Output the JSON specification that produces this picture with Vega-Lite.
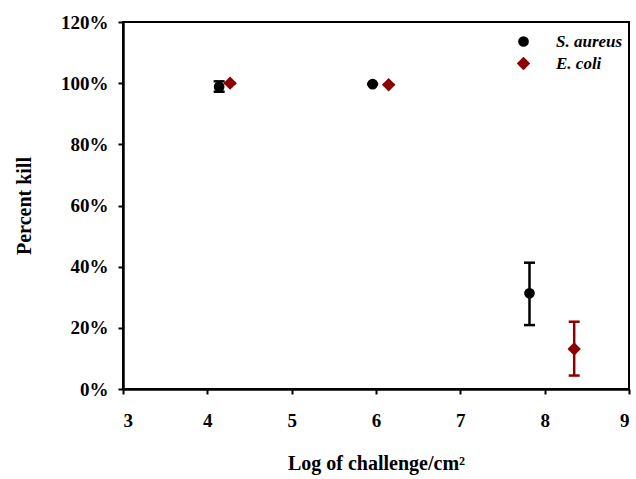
{
  "$schema": "https://vega.github.io/schema/vega-lite/v6.json",
  "autosize": "none",
  "width": 506,
  "height": 367,
  "padding": {"left": 123, "top": 22, "right": 7, "bottom": 90},
  "background": "white",
  "config": {
    "view": {"stroke": "black", "strokeWidth": 2},
    "font": "Liberation Serif",
    "axis": {
      "domainColor": "black", "domainWidth": 2.5, "tickColor": "black", "tickWidth": 2,
      "tickSize": 5, "grid": false, "labelFont": "Liberation Serif", "labelFontWeight": "bold",
      "labelFontSize": 19, "labelColor": "black", "titleFont": "Liberation Serif",
      "titleFontWeight": "bold", "titleFontSize": 20, "titleColor": "black"
    }
  },
  "data": {
    "values": [
      {"x": 4.14, "y": 0.988, "ymin": 0.972, "ymax": 1.006, "organism": "S. aureus"},
      {"x": 5.96, "y": 0.997, "ymin": 0.997, "ymax": 0.997, "organism": "S. aureus"},
      {"x": 7.82, "y": 0.313, "ymin": 0.209, "ymax": 0.413, "organism": "S. aureus"},
      {"x": 4.27, "y": 1.0, "ymin": 1.0, "ymax": 1.0, "organism": "E. coli"},
      {"x": 6.15, "y": 0.995, "ymin": 0.995, "ymax": 0.995, "organism": "E. coli"},
      {"x": 8.35, "y": 0.131, "ymin": 0.044, "ymax": 0.22, "organism": "E. coli"}
    ]
  },
  "encoding": {
    "x": {"field": "x", "type": "quantitative", "scale": {"domain": [3, 9], "nice": false, "zero": false}, "axis": {"values": [3,4,5,6,7,8,9], "format": "d", "title": "Log of challenge/cm²", "labelPadding": 17, "titlePadding": 23}}
  },
  "layer": [
    {
      "mark": {"type": "errorbar", "ticks": {"size": 11, "thickness": 2.5, "opacity": 1}, "rule": {"strokeWidth": 2.5, "opacity": 1}},
      "encoding": {
        "y": {"field": "ymin", "type": "quantitative", "scale": {"domain": [0, 1.2], "nice": false, "zero": false}, "title": "Percent kill"},
        "y2": {"field": "ymax"},
        "color": {"field": "organism", "type": "nominal", "scale": {"domain": ["S. aureus", "E. coli"], "range": ["black", "#8B0000"]}}
      }
    },
    {
      "mark": {"type": "point", "filled": true, "opacity": 1},
      "encoding": {
        "y": {"field": "y", "type": "quantitative", "scale": {"domain": [0, 1.2], "nice": false}, "axis": {"values": [0,0.2,0.4,0.6,0.8,1.0,1.2], "format": ".0%", "title": "Percent kill", "labelPadding": 10, "titlePadding": 26}},
        "color": {"field": "organism", "type": "nominal", "scale": {"domain": ["S. aureus", "E. coli"], "range": ["black", "#8B0000"]},
          "legend": {"orient": "none", "legendX": 392, "legendY": 11, "title": null, "labelFont": "Liberation Serif", "labelFontStyle": "italic", "labelFontWeight": "bold", "labelFontSize": 17, "labelColor": "black", "labelOffset": 24, "rowPadding": 4, "symbolSize": 110, "symbolStrokeWidth": 0}},
        "shape": {"field": "organism", "type": "nominal", "scale": {"domain": ["S. aureus", "E. coli"], "range": ["circle", "diamond"]}},
        "size": {"field": "organism", "type": "nominal", "scale": {"domain": ["S. aureus", "E. coli"], "range": [115, 180]}, "legend": null}
      }
    }
  ]
}
